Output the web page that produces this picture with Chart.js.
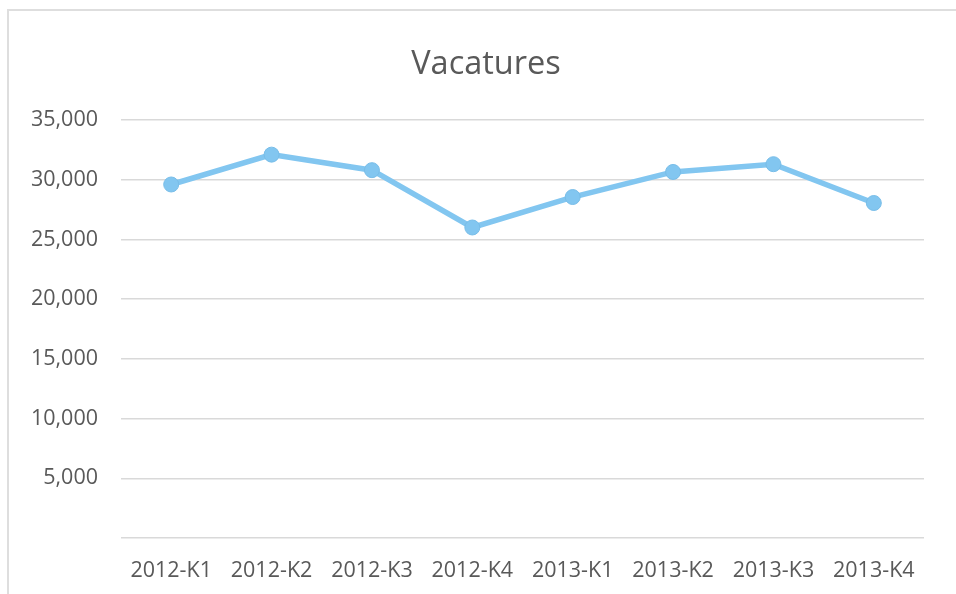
<!DOCTYPE html>
<html>
<head>
<meta charset="utf-8">
<script src="https://cdn.jsdelivr.net/npm/chart.js@4"></script>
<style>
  html, body { margin: 0; padding: 0; background: #fff; overflow: hidden; }
  #wrap { position: relative; width: 956px; height: 594px; overflow: hidden; }
  #frame { position: absolute; left: 7px; top: 9px; width: 1000px; height: 700px;
           border-left: 2px solid #dedede; border-top: 2px solid #dedede; box-sizing: border-box; }
  canvas { position: absolute; left: 0; top: 0; }
</style>
</head>
<body>
<div id="wrap">
  <div id="frame"></div>
  <canvas id="c" width="972" height="594"></canvas>
</div>
<script>
const categories = ['2012-K1', '2012-K2', '2012-K3', '2012-K4', '2013-K1', '2013-K2', '2013-K3', '2013-K4'];
const vacatures = [29600, 32100, 30800, 26000, 28550, 30650, 31300, 28050];
const yTicks = [0, 5000, 10000, 15000, 20000, 25000, 30000, 35000];

const lineColor = '#82C6F0';
const textColor = '#595959';
const gridColor = '#d9d9d9';
const tickFont = { family: 'Open Sans', size: 21.5, lineHeight: 1.2 };

new Chart(document.getElementById('c'), {
  type: 'line',
  data: {
    labels: categories,
    datasets: [{
      label: 'Vacatures',
      data: vacatures,
      borderColor: lineColor,
      backgroundColor: lineColor,
      borderWidth: 5.5,
      pointRadius: 7.5,
      pointBackgroundColor: lineColor,
      pointBorderColor: '#78bde8',
      pointBorderWidth: 1,
      tension: 0,
      fill: false
    }]
  },
  options: {
    responsive: false,
    animation: false,
    layout: { padding: 0 },
    plugins: {
      legend: { display: false },
      tooltip: { enabled: false },
      title: {
        display: true,
        text: 'Vacatures',
        color: textColor,
        font: { family: 'Open Sans', size: 32.5, weight: 'normal', lineHeight: 1.2 },
        padding: { top: 45.5, bottom: 35.5 }
      }
    },
    scales: {
      x: {
        offset: true,
        grid: { display: false, drawTicks: false },
        border: { display: false },
        ticks: {
          color: textColor,
          font: tickFont,
          padding: 20,
          maxRotation: 0,
          autoSkip: false
        },
        afterFit(scale) { scale.height = 56; }
      },
      y: {
        min: 0,
        max: 35000,
        afterBuildTicks(scale) { scale.ticks = yTicks.map(v => ({ value: v })); },
        grid: { color: gridColor, lineWidth: 1.5, drawTicks: false },
        border: { display: false },
        ticks: {
          color: textColor,
          font: tickFont,
          padding: 23,
          callback(v) { return v === 0 ? '' : v.toLocaleString('en-US'); }
        },
        afterFit(scale) { scale.width = 121; }
      },
      yRight: {
        position: 'right',
        display: true,
        grid: { display: false, drawTicks: false },
        border: { display: false },
        ticks: { display: false },
        afterFit(scale) { scale.width = 48; }
      }
    }
  }
});
</script>
</body>
</html>
